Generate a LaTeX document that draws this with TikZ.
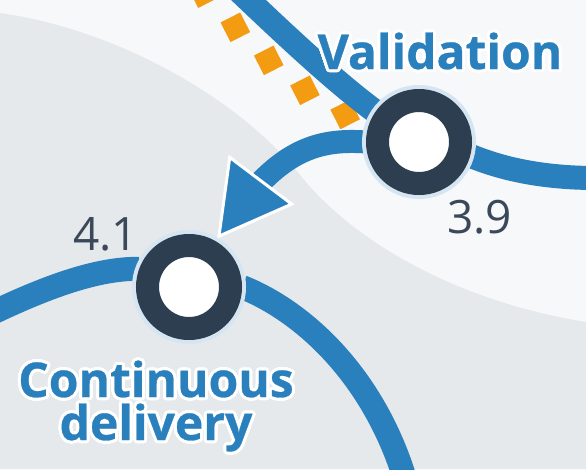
\documentclass[tikz,border=0pt]{standalone}
\usepackage{fontspec}
\setmainfont{Open Sans}[BoldFeatures={FakeBold=0.6}]
\usepackage[copies]{contour}
\contourlength{3pt}
\contournumber{32}
\usepackage{tikz}
\usetikzlibrary{positioning,
				arrows.meta,
				bending,
				decorations.markings,
				calc}

\definecolor{bglight}{HTML}{F6F8FA}
\definecolor{bggray}{HTML}{E6E9EB}
\definecolor{lineblue}{HTML}{2A80BD}
\definecolor{ringdark}{HTML}{2C3E50}
\definecolor{ringhalo}{HTML}{D5E6F2}
\definecolor{dashorange}{HTML}{F39C12}
\definecolor{numgray}{HTML}{3A4859}

\pgfdeclarelayer{back}
\pgfdeclarelayer{tracks}
\pgfsetlayers{back,tracks,main}

\tikzset{
	station/.style={circle, draw=ringdark, line width=23pt, fill=white,
		minimum size=83pt, inner sep=0pt,
		preaction={draw=ringhalo, line width=31pt}},
	track/.style={draw=lineblue, line width=24pt},
	orangebox/.style={fill=dashorange, minimum size=22pt, inner sep=0pt, rotate=27},
	sidetrack/.style={decoration={markings,
		mark=between positions 0.02 and 0.92 step 47pt with {\node[orangebox] {};}},
		decorate},
	hop/.style={draw=lineblue, line width=23pt, shorten >=3pt,
		-{Triangle[length=74pt, width=82pt, color=white, fill=lineblue, line width=3pt, flex]}},
	stopname/.style={font=\bfseries\fontsize{48}{43}\selectfont, text=lineblue,
		align=center, inner sep=0pt},
	stopnum/.style={font=\fontsize{46}{46}\selectfont, text=numgray, inner sep=0pt}
}

\begin{document}
\begin{tikzpicture}[x=1pt, y=-1pt]
		\useasboundingbox (0,0) rectangle (586,469);
		\foreach \name/\pos in {val/{(419,142)}, cd/{(189,287)}}
			\node[station] (\name) at \pos {};
		\coordinate (valin) at (238,-10);
		\coordinate (valout) at (596,178);
		\coordinate (dashin) at (200,-10);
		\coordinate (cdin) at (-10,314);
		\coordinate (cdout) at (405,479);
		\node[stopname, anchor=base] (valname) at (440,69) {\contour{white}{Validation}};
		\node[stopname, anchor=base] (cdname) at (156,440) {\contour{white}{Continuous}\\\contour{white}{delivery}};
		\node[stopnum, anchor=base west] (valnum) at (447,233) {3.9};
		\node[stopnum, anchor=base west] (cdnum) at (73,250) {4.1};
		\begin{pgfonlayer}{back}
			\fill[bglight] (0,0) rectangle (586,469);
			\fill[bggray] (0,13) .. controls (120,30) and (240,100) .. (300,175)
				.. controls (350,237.5) and (450,300) .. (586,322) -- (586,469) -- (0,469) -- cycle;
		\end{pgfonlayer}
		\begin{pgfonlayer}{tracks}
			\path[sidetrack] (dashin) .. controls (255,48) and (300,100) .. (val);
			\draw[track] (valin) .. controls (280,30) and (335,82) .. (val.145);
			\draw[track] (val.-15) .. controls (500,168) and (540,178) .. (valout);
			\draw[track] (cdin) .. controls (40,290) and (95,268) .. (cd.160);
			\draw[track] (cd.east) .. controls (300,310) and (372,372) .. (cdout);
			\draw[hop] (val.west) .. controls (310,138) and (271,155) .. (cd.60);
		\end{pgfonlayer}
	\end{tikzpicture}
\end{document}
